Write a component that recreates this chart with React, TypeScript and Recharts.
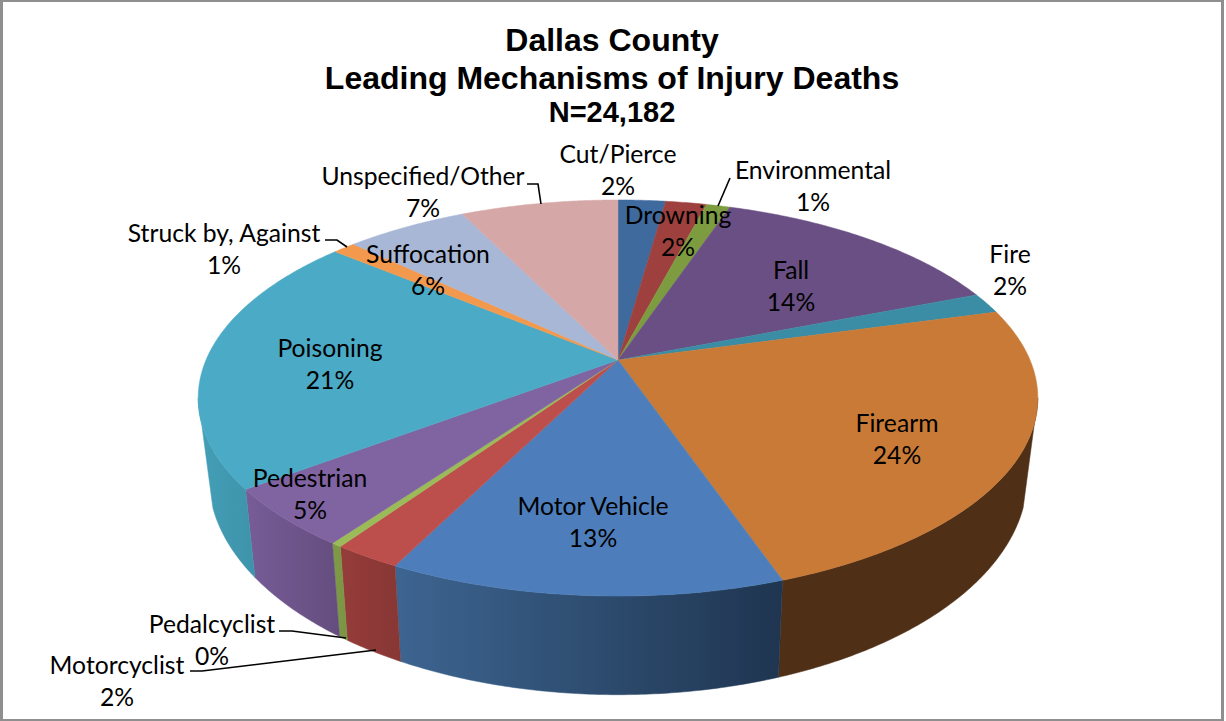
import { PieChart, Pie } from "recharts"

const mechanisms = [
  "Cut/Pierce", "Drowning", "Environmental", "Fall", "Fire", "Firearm", "Motor Vehicle",
  "Motorcyclist", "Pedalcyclist", "Pedestrian", "Poisoning", "Struck by, Against", "Suffocation", "Unspecified/Other",
]
const shares = [2.2, 1.9, 1.1, 13.85, 1.7, 23.95, 12.7, 2.2, 0.35, 4.8, 21.25, 1.05, 5.65, 7.3]

const topColors = [
  "#3f6a9e", "#9e413e", "#7d9c40", "#694f83", "#3a8da5", "#c87a36", "#4d7ebb",
  "#bc4f4c", "#9bbb59", "#8063a1", "#4baac5", "#f3994d", "#a8b7d6", "#d6a7a7",
]
const wallFrom = [
  "#3f6a9e", "#9e413e", "#7d9c40", "#694f83", "#3a8da5", "#502f17", "#3d6591",
  "#953c3a", "#7f9a47", "#775c97", "#439fb7", "#f3994d", "#a8b7d6", "#d6a7a7",
]
const wallTo = [
  "#3f6a9e", "#9e413e", "#7d9c40", "#694f83", "#3a8da5", "#502f17", "#1f3550",
  "#873735", "#7a9444", "#644d7e", "#3e93aa", "#f3994d", "#a8b7d6", "#d6a7a7",
]

// centre of each two line label
const labelSpots = [
  [618, 153], [678, 214], [813, 169], [791, 269], [1010, 253], [897, 422], [593, 505],
  [117, 664], [212, 623], [310, 477], [330, 347], [224, 232], [428, 253], [423, 175],
]
const leaders: Record<number, string> = {
  2: "730,178 718,206",
  7: "190,671 202,671 376,650",
  8: "279,631 292,631 346,638",
  11: "325,240 337,240 347,247",
  13: "527,184 538,184 541,204",
}

const data = mechanisms.map((name, i) => ({ name, value: shares[i], fill: topColors[i] }))

const FLATTEN = 0.463
const PERSPECTIVE = 0.192
const WALL_X = 0.975
const WALL_Y = 1.1
const WALL_DROP = 75
// the side wall outline runs straight from these top rim angles to the lower ones
const UPPER_LIMIT = 101
const LOWER_LIMIT = 109

// theta is degrees clockwise from the top of the pie
function rim(cx: number, cy: number, r: number, theta: number, lower = false) {
  const t = (theta * Math.PI) / 180
  const w = 1 + PERSPECTIVE * Math.cos(t)
  const x = (r * Math.sin(t)) / w
  const y = (-r * FLATTEN * Math.cos(t)) / w
  if (lower) return [cx + x * WALL_X, cy + y * WALL_Y + WALL_DROP]
  return [cx + x, cy + y]
}

function arc(cx: number, cy: number, r: number, from: number, to: number, lower = false) {
  const pts: number[][] = []
  const steps = Math.max(2, Math.ceil((to - from) * 2))
  for (let i = 0; i <= steps; i++) {
    pts.push(rim(cx, cy, r, from + ((to - from) * i) / steps, lower))
  }
  return pts
}

const toPath = (pts: number[][]) =>
  "M" + pts.map((p) => `${p[0].toFixed(2)},${p[1].toFixed(2)}`).join("L") + "Z"

function Slice(props: any) {
  const { cx, cy, outerRadius, startAngle, endAngle, index } = props
  const from = 90 - startAngle
  const to = 90 - endAngle
  const top = toPath([[cx, cy], ...arc(cx, cy, outerRadius, from, to)])
  let wall = null
  if (Math.min(to, 360 - UPPER_LIMIT) > Math.max(from, UPPER_LIMIT)) {
    const upper = arc(cx, cy, outerRadius, Math.max(from, UPPER_LIMIT), Math.min(to, 360 - UPPER_LIMIT))
    const lower = arc(cx, cy, outerRadius, Math.max(from, LOWER_LIMIT), Math.min(to, 360 - LOWER_LIMIT), true).reverse()
    const xs = [...upper, ...lower].map((p) => p[0])
    const id = `wall-${index}`
    wall = (
      <g>
        <defs>
          <linearGradient id={id} gradientUnits="userSpaceOnUse" x1={Math.min(...xs)} x2={Math.max(...xs)} y1={0} y2={0}>
            <stop offset="0" stopColor={wallFrom[index]} />
            <stop offset="1" stopColor={wallTo[index]} />
          </linearGradient>
        </defs>
        <path d={toPath([...upper, ...lower])} fill={`url(#${id})`} stroke={`url(#${id})`} strokeWidth={0.5} />
      </g>
    )
  }
  return (
    <g>
      {wall}
      <path d={top} fill={topColors[index]} stroke={topColors[index]} strokeWidth={0.5} />
    </g>
  )
}

function SliceLabel(props: any) {
  const { index, name, value } = props
  const [x, y] = labelSpots[index]
  return (
    <g>
      {leaders[index] && <polyline points={leaders[index]} fill="none" stroke="#000" strokeWidth={1.6} />}
      <text x={x} y={y} textAnchor="middle" dominantBaseline="central" fontFamily="Lato" fontSize={24.7} fill="#000">
        {name}
      </text>
      <text x={x} y={y + 32} textAnchor="middle" dominantBaseline="central" fontFamily="Lato" fontSize={24.7} fill="#000">
        {Math.round(value)}%
      </text>
    </g>
  )
}

export default function App() {
  return (
    <div style={{ position: "absolute", left: 0, top: 0, width: 1226, height: 721, background: "#fff", overflow: "hidden" }}>
      <div
        style={{
          position: "absolute",
          left: 0,
          top: 0,
          width: 1218,
          height: 717,
          borderStyle: "solid",
          borderColor: "#8f8f8f",
          borderWidth: "2px 3px 2px 3px",
        }}
      />
      <PieChart width={1226} height={721} margin={{ top: 0, right: 0, bottom: 0, left: 0 }}>
        <text x={612} y={40} textAnchor="middle" dominantBaseline="central" fontFamily="Liberation Sans" fontWeight="bold" fontSize={32}>
          Dallas County
        </text>
        <text x={612} y={78} textAnchor="middle" dominantBaseline="central" fontFamily="Liberation Sans" fontWeight="bold" fontSize={32}>
          Leading Mechanisms of Injury Deaths
        </text>
        <text x={612} y={112} textAnchor="middle" dominantBaseline="central" fontFamily="Liberation Sans" fontWeight="bold" fontSize={29}>
          N=24,182
        </text>
        <Pie
          data={data}
          dataKey="value"
          nameKey="name"
          cx={618}
          cy={360}
          outerRadius={412}
          startAngle={90}
          endAngle={-270}
          stroke="none"
          isAnimationActive={false}
          shape={Slice}
          label={SliceLabel}
          labelLine={false}
        />
      </PieChart>
    </div>
  )
}
